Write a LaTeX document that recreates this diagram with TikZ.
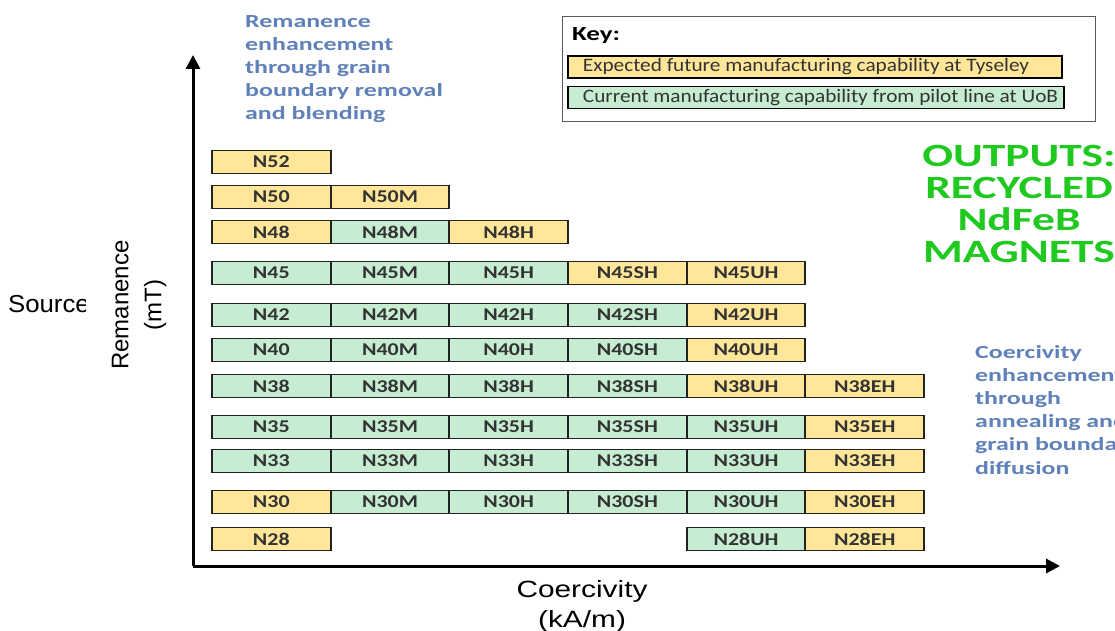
\documentclass[tikz,border=0pt]{standalone}
\usepackage{fontspec}
\setmainfont{Liberation Sans}
\newfontfamily\notefont[FakeStretch=1.4]{Carlito}
\newfontfamily\cellfont[FakeStretch=1.22]{Carlito}
\newfontfamily\keyfont[FakeStretch=1.12]{Carlito}
\newfontfamily\titlefont[FakeStretch=1.35]{Carlito}
\newfontfamily\axisfont[FakeStretch=1.27]{Liberation Sans}
\newfontfamily\sourcefont[FakeStretch=1.05]{Liberation Sans}
\usetikzlibrary{arrows.meta}

\definecolor{mgYellow}{HTML}{FFE699}
\definecolor{mgGreen}{HTML}{C6EDD2}
\definecolor{mgEdge}{HTML}{222222}
\definecolor{mgInk}{HTML}{333333}
\definecolor{mgBlue}{HTML}{5F80B8}
\definecolor{mgLime}{HTML}{1FC91F}
\definecolor{mgFrame}{HTML}{5A5A5A}

\begin{document}
\begin{tikzpicture}[
  x=1pt, y=-1pt, text=mgInk,
  mg axis/.style={draw=black,line width=3pt,-{Triangle[length=14pt,width=14pt]}},
  mg cell/.style={draw=mgEdge,line width=1.8pt,minimum width=\cw pt,
    minimum height=23pt,inner sep=0pt,
    font=\cellfont\bfseries\fontsize{18}{20}\selectfont},
  mg entry/.style={draw=black,line width=1.8pt,anchor=west,inner xsep=15pt,
    inner ysep=0pt,minimum height=22pt,
    font=\keyfont\fontsize{19}{21}\selectfont},
  mg note/.style={text=mgBlue,align=left,inner sep=0pt,
    font=\notefont\bfseries\fontsize{18.5}{23.2}\selectfont}
]
\useasboundingbox (0,0) rectangle (1115,631);
% Grid of grade cells: left edge and column width.
\def\xL{212}
\def\cw{118.67}

% Axes.
\coordinate (O) at (193,566);
\coordinate (ytip) at (193,55);
\coordinate (xtip) at (1060,566);
\draw[mg axis] (O) -- (ytip);
\draw[mg axis] (O) -- (xtip);

% One row per remanence grade: column/label/colour.
\foreach \yy/\row in {
  162/{1/N52/Yellow},
  197/{1/N50/Yellow,2/N50M/Yellow},
  232/{1/N48/Yellow,2/N48M/Green,3/N48H/Yellow},
  273/{1/N45/Green,2/N45M/Green,3/N45H/Green,4/N45SH/Yellow,5/N45UH/Yellow},
  315/{1/N42/Green,2/N42M/Green,3/N42H/Green,4/N42SH/Green,5/N42UH/Yellow},
  350/{1/N40/Green,2/N40M/Green,3/N40H/Green,4/N40SH/Green,5/N40UH/Yellow},
  386/{1/N38/Green,2/N38M/Green,3/N38H/Green,4/N38SH/Green,5/N38UH/Yellow,6/N38EH/Yellow},
  427/{1/N35/Green,2/N35M/Green,3/N35H/Green,4/N35SH/Green,5/N35UH/Green,6/N35EH/Yellow},
  461/{1/N33/Green,2/N33M/Green,3/N33H/Green,4/N33SH/Green,5/N33UH/Green,6/N33EH/Yellow},
  502/{1/N30/Yellow,2/N30M/Green,3/N30H/Green,4/N30SH/Green,5/N30UH/Green,6/N30EH/Yellow},
  539/{1/N28/Yellow,5/N28UH/Green,6/N28EH/Yellow}}
  \foreach \cc/\lab/\kind in \row
    \node[mg cell,fill=mg\kind] (\lab) at ({\xL+(\cc-.5)*\cw},\yy) {\lab};

% Key.
\node[draw=mgFrame,line width=1.3pt,anchor=north west,inner sep=0pt,
  minimum width=533pt,minimum height=105pt] (key) at (562,16) {};
\node[anchor=base west,inner sep=0pt,text=black,
  font=\titlefont\bfseries\fontsize{20}{22}\selectfont]
  (keytitle) at (572,41) {Key:};
\node[mg entry,fill=mgYellow] (future) at (567,67)
  {\makebox[464pt][l]{Expected future manufacturing capability at Tyseley}};
\node[mg entry,fill=mgGreen] (current) at (567,97.5)
  {\makebox[466pt][l]{Current manufacturing capability from pilot line at UoB}};

% Notes.
\node[mg note,anchor=north west] (remnote) at (245,15)
  {Remanence\\enhancement\\through grain\\boundary removal\\and blending};
\node[mg note,anchor=north west] (coernote) at (975,345)
  {Coercivity\\enhancement\\through\\annealing and\\grain boundary\\diffusion};
\node[text=mgLime,align=center,inner sep=0pt,anchor=north,
  font=\notefont\bfseries\fontsize{32.5}{32}\selectfont] (outputs) at (1019,145)
  {OUTPUTS:\\RECYCLED\\NdFeB\\MAGNETS};

% Axis labels.
\node[rotate=90,align=center,inner sep=0pt,text=black,font=\fontsize{24}{33}\selectfont]
  (remlabel) at (139,305) {Remanence\\(mT)};
\node[align=center,inner sep=0pt,text=black,font=\axisfont\fontsize{23.5}{30}\selectfont]
  (coerlabel) at (582,606) {Coercivity\\(kA/m)};
\begin{scope}
  \clip (0,270) rectangle (85,340);
  \node[anchor=base west,inner sep=0pt,text=black,
    font=\sourcefont\fontsize{24.5}{26}\selectfont]
    (source) at (8,312) {Source};
\end{scope}
\end{tikzpicture}
\end{document}
